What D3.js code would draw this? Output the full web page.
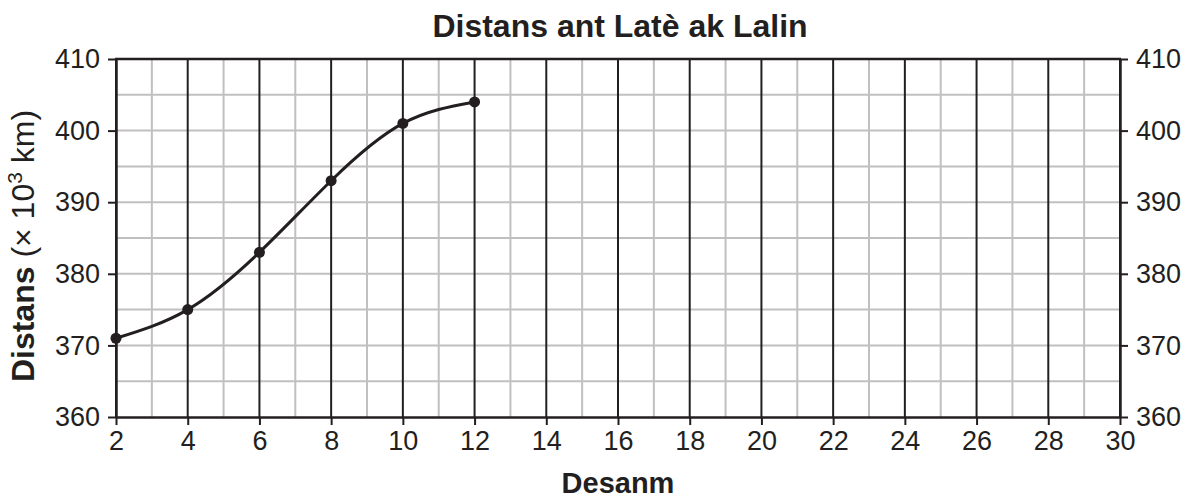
<!DOCTYPE html>
<html>
<head>
<meta charset="utf-8">
<script src="https://cdn.jsdelivr.net/npm/d3@7"></script>
<style>
  body { margin: 0; background: #fff; }
  svg { display: block; font-family: "Liberation Sans", Arial, Helvetica, sans-serif; }
</style>
</head>
<body>
<div id="chart"></div>
<script>
// data
const days = [2, 4, 6, 8, 10, 12];
const distances = [371, 375, 383, 393, 401, 404];
const xTicks = [2, 4, 6, 8, 10, 12, 14, 16, 18, 20, 22, 24, 26, 28, 30];
const yTicks = [360, 370, 380, 390, 400, 410];

const ink = '#231f20';
const grey = '#c0c0c2';

const width = 1190, height = 501;
const margin = {t: 59, r: 70, b: 84, l: 116};
const w = width - margin.l - margin.r;
const h = height - margin.t - margin.b;

const svg = d3.select('#chart').append('svg')
    .attr('width', width)
    .attr('height', height);

const x = d3.scaleLinear().domain([2, 30]).range([0, w]);
const y = d3.scaleLinear().domain([360, 410]).range([h, 0]);

const plot = svg.append('g')
    .attr('transform', `translate(${margin.l},${margin.t})`);

// minor grid
plot.append('g').selectAll('line')
    .data(d3.range(3, 30, 2))
    .join('line')
    .attr('x1', d => x(d)).attr('x2', d => x(d))
    .attr('y1', 0).attr('y2', h)
    .attr('stroke', grey).attr('stroke-width', 2);

plot.append('g').selectAll('line')
    .data(d3.range(365, 410, 5))
    .join('line')
    .attr('x1', 0).attr('x2', w)
    .attr('y1', d => y(d)).attr('y2', d => y(d))
    .attr('stroke', grey).attr('stroke-width', 2);

// major verticals
plot.append('g').selectAll('line')
    .data(xTicks)
    .join('line')
    .attr('x1', d => x(d)).attr('x2', d => x(d))
    .attr('y1', 0).attr('y2', h)
    .attr('stroke', ink).attr('stroke-width', 2);

// top border
plot.append('line')
    .attr('x1', -1).attr('x2', w + 1)
    .attr('y1', 0).attr('y2', 0)
    .attr('stroke', ink).attr('stroke-width', 2.5);

// axes
const tickSize = 8;
const xAxis = plot.append('g')
    .attr('transform', `translate(0,${h})`)
    .call(d3.axisBottom(x).tickValues(xTicks).tickSize(tickSize).tickSizeOuter(0).tickPadding(6));

const yLeft = plot.append('g')
    .call(d3.axisLeft(y).tickValues(yTicks).tickSize(tickSize).tickSizeOuter(0).tickPadding(8));

const yRight = plot.append('g')
    .attr('transform', `translate(${w},0)`)
    .call(d3.axisRight(y).tickValues(yTicks).tickSize(tickSize).tickSizeOuter(0).tickPadding(8));

[xAxis, yLeft, yRight].forEach(a => {
    a.select('.domain').attr('stroke', ink).attr('stroke-width', 2.5);
    a.selectAll('.tick line').attr('stroke', ink).attr('stroke-width', 2);
    a.selectAll('.tick text')
        .attr('fill', ink)
        .style('font-size', '27px');
});

// curve
const line = d3.line()
    .x((d, i) => x(days[i]))
    .y(d => y(d))
    .curve(d3.curveNatural);

plot.append('path')
    .datum(distances)
    .attr('d', line)
    .attr('fill', 'none')
    .attr('stroke', ink)
    .attr('stroke-width', 3);

plot.append('g').selectAll('circle')
    .data(distances)
    .join('circle')
    .attr('cx', (d, i) => x(days[i]))
    .attr('cy', d => y(d))
    .attr('r', 5.5)
    .attr('fill', ink);

// title
svg.append('text')
    .attr('x', 620).attr('y', 37)
    .attr('text-anchor', 'middle')
    .attr('fill', ink)
    .style('font-size', '32px')
    .style('font-weight', 'bold')
    .text('Distans ant Latè ak Lalin');

// x label
svg.append('text')
    .attr('x', 618).attr('y', 493)
    .attr('text-anchor', 'middle')
    .attr('fill', ink)
    .style('font-size', '29px')
    .style('font-weight', 'bold')
    .text('Desanm');

// y label
const yLabel = svg.append('text')
    .attr('transform', 'translate(34,246) rotate(-90)')
    .attr('text-anchor', 'middle')
    .attr('fill', ink)
    .style('font-size', '32px');
yLabel.append('tspan').style('font-weight', 'bold').text('Distans ');
yLabel.append('tspan').text('(× 10');
yLabel.append('tspan').attr('dy', -12).style('font-size', '21px').text('3');
yLabel.append('tspan').attr('dy', 12).text(' km)');
</script>
</body>
</html>
